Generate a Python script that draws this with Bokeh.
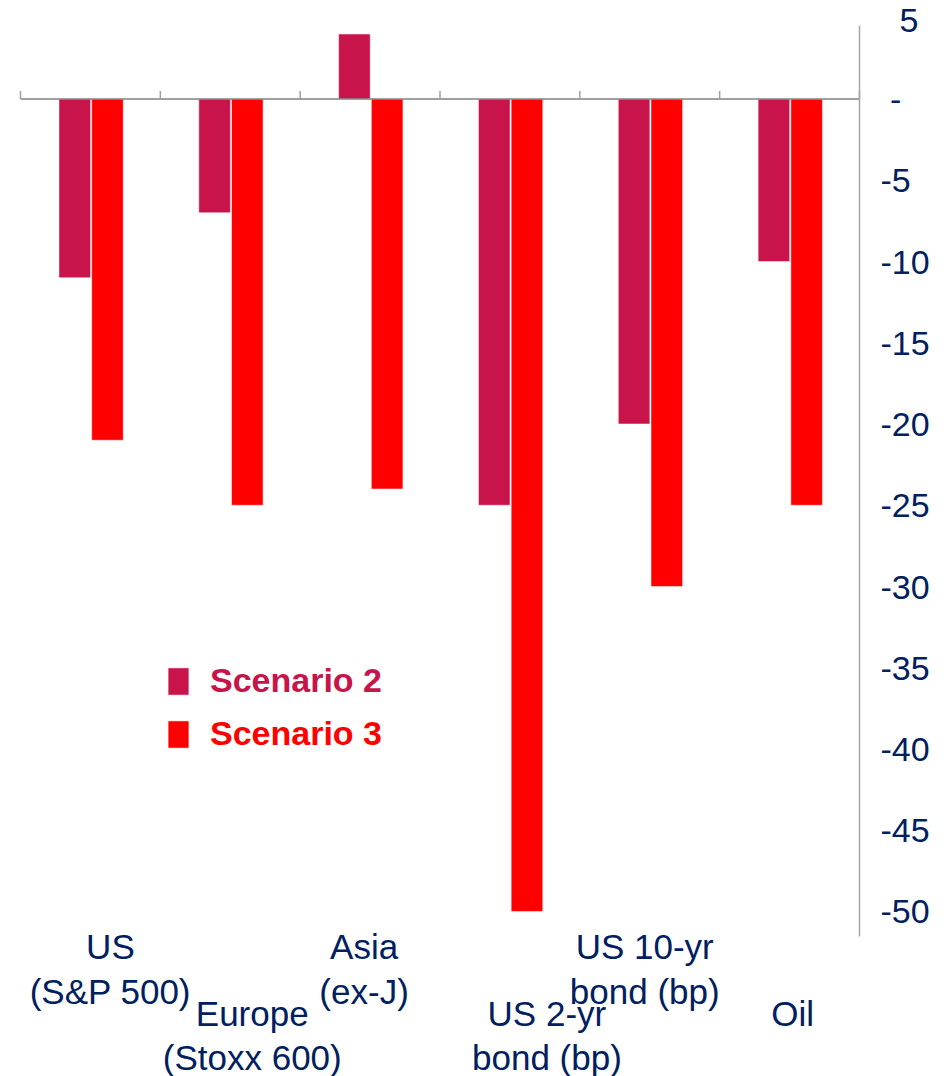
from bokeh.plotting import figure
from bokeh.models import Range1d, FixedTicker, Legend, LegendItem, ColumnDataSource
from bokeh.transform import dodge
from bokeh.core.properties import value
from bokeh.embed import file_html
from bokeh.resources import INLINE

# ---- data ----
categories = ["US\n(S&P 500)", "Europe\n(Stoxx 600)", "Asia\n(ex-J)",
              "US 2-yr\nbond (bp)", "US 10-yr\nbond (bp)", "Oil"]
scenario2 = [-11, -7, 4, -25, -20, -10]
scenario3 = [-21, -25, -24, -50, -30, -25]
y_ticks = [5, 0, -5, -10, -15, -20, -25, -30, -35, -40, -45, -50]
tick_text = {5: "\u20075", 0: "\u2008-"}
series_names = ["Scenario 2", "Scenario 3"]

# ---- styling ----
C2 = "#C8144A"
C3 = "#FF0000"
NAVY = "#002060"
FONT = "Liberation Sans"
label_dx = [20, 22, -6, 37, -5, 3]          # horizontal nudges of category labels (px)
label_rows = [0, 1, 0, 1, 0, 1]             # staggered rows
row_y = [-50.98, -55.05]                    # data-space top of each label row

n = len(categories)
xc = [i + 0.5 for i in range(n)]

src = ColumnDataSource(dict(
    xc=xc, s2=scenario2, s3=scenario3, label=categories,
    ly=[row_y[r] for r in label_rows], dx=label_dx,
))

W, H = 944, 1076
p = figure(width=W, height=H, output_backend="svg", toolbar_location=None,
           x_range=Range1d(-0.0143, n + 0.0215), y_range=Range1d(-60.154, 6.062),
           x_axis_location=None, y_axis_location="right",
           min_border_left=18, min_border_right=82, min_border_top=0, min_border_bottom=0)
p.outline_line_color = None
p.grid.visible = False
p.background_fill_color = "white"
p.border_fill_color = "white"

r2 = p.vbar(x=dodge("xc", -0.112), top="s2", bottom=0, width=0.226, source=src,
            fill_color=C2, line_color="white", line_alpha=0.5, line_width=1)
r3 = p.vbar(x=dodge("xc", 0.122), top="s3", bottom=0, width=0.226, source=src,
            fill_color=C3, line_color="white", line_alpha=0.5, line_width=1)

# zero line with category boundary ticks
bounds = list(range(n + 1))
p.segment(x0=0, y0=0, x1=n, y1=0, line_color="#808080", line_width=1.5)
p.segment(x0=bounds, y0=[0] * len(bounds), x1=bounds, y1=[0.5] * len(bounds),
          line_color="#A0A0A0", line_width=1.5)
# right axis spine
p.segment(x0=n, y0=4.52, x1=n, y1=-51.54, line_color="#A6A6A6", line_width=1.5)

# category labels
p.text(x="xc", y="ly", text="label", x_offset="dx", source=src,
       text_align="center", text_baseline="top", text_font=value(FONT),
       text_font_size="35px", text_color=NAVY, text_line_height=1.15)

ax = p.yaxis[0]
ax.ticker = FixedTicker(ticks=y_ticks)
ax.major_label_overrides = {t: tick_text.get(t, str(t)) for t in y_ticks}
ax.axis_line_color = None
ax.major_tick_line_color = None
ax.minor_tick_line_color = None
ax.major_tick_out = 0
ax.major_tick_in = 0
ax.major_label_standoff = 18
ax.major_label_text_font = FONT
ax.major_label_text_font_size = "34px"
ax.major_label_text_color = NAVY

for name, r, col, loc in [(series_names[0], r2, C2, (147, 376)),
                          (series_names[1], r3, C3, (147, 323))]:
    leg = Legend(items=[LegendItem(label=name, renderers=[r])], location=loc,
                 label_text_color=col, label_text_font=FONT, label_text_font_style="bold",
                 label_text_font_size="34px", glyph_width=26, glyph_height=34,
                 label_height=34, label_standoff=19, padding=0, margin=0, spacing=0,
                 border_line_color=None, background_fill_alpha=0)
    p.add_layout(leg)

open("out.html", "w").write(file_html(p, INLINE))
